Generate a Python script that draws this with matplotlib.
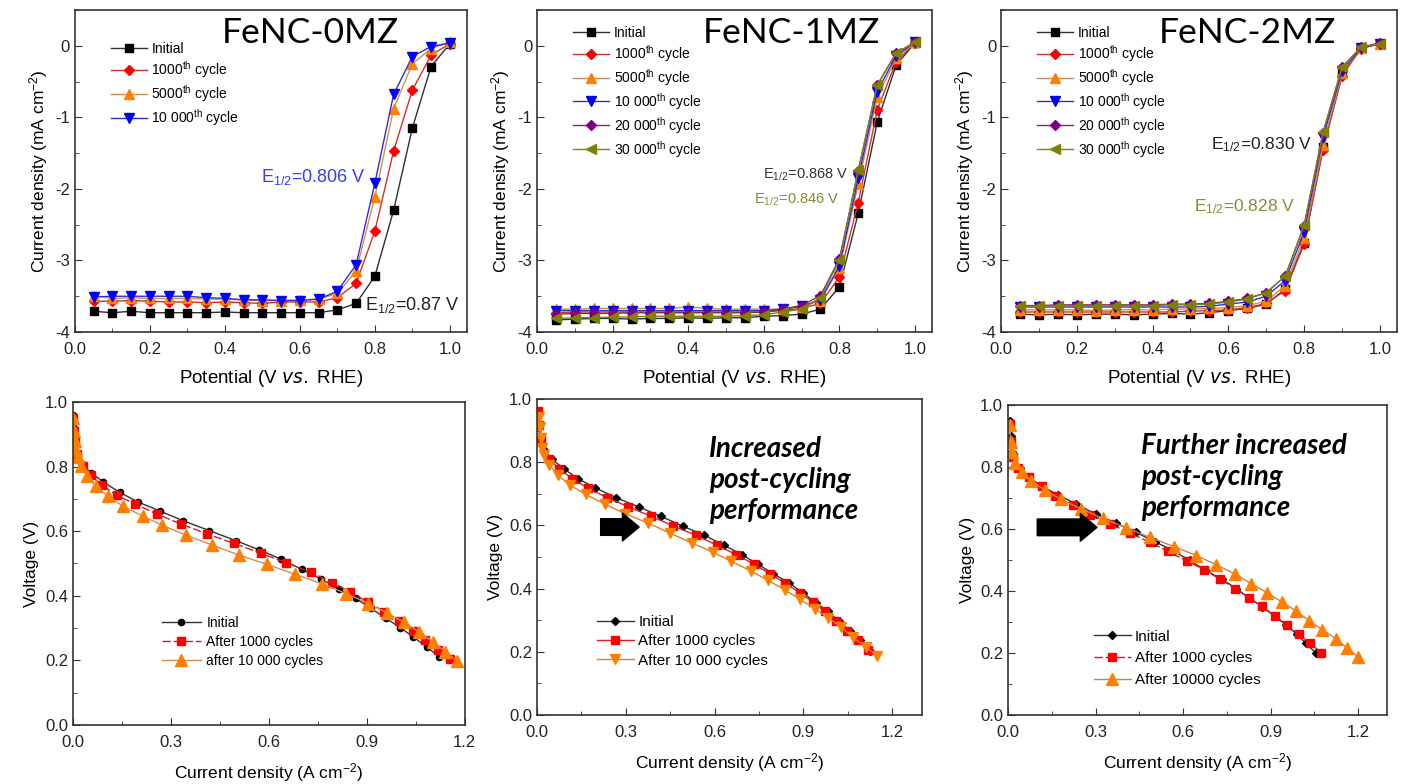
import matplotlib
matplotlib.use('Agg')
import matplotlib.pyplot as plt
from matplotlib.ticker import MultipleLocator
import numpy as np

plt.rcParams['font.family'] = ['Liberation Sans', 'DejaVu Sans']
plt.rcParams['mathtext.default'] = 'regular'

# ---------------- RDE data (potential vs current density) ----------------
potential = [0.05, 0.10, 0.15, 0.20, 0.25, 0.30, 0.35, 0.40, 0.45, 0.50,
             0.55, 0.60, 0.65, 0.70, 0.75, 0.80, 0.85, 0.90, 0.95, 1.00]

# FeNC-0MZ
rde0_initial = [-3.71, -3.73, -3.71, -3.73, -3.73, -3.73, -3.73, -3.72, -3.73, -3.73,
                -3.73, -3.73, -3.73, -3.69, -3.60, -3.22, -2.30, -1.15, -0.29, 0.03]
rde0_1000 = [-3.57, -3.57, -3.56, -3.57, -3.58, -3.58, -3.59, -3.58, -3.59, -3.60,
             -3.58, -3.58, -3.58, -3.52, -3.32, -2.59, -1.47, -0.62, -0.13, 0.03]
rde0_5000 = [-3.49, -3.53, -3.52, -3.53, -3.53, -3.53, -3.54, -3.54, -3.55, -3.56,
             -3.56, -3.55, -3.54, -3.46, -3.15, -2.11, -0.88, -0.25, -0.04, 0.05]
rde0_10000 = [-3.51, -3.50, -3.50, -3.50, -3.50, -3.50, -3.52, -3.53, -3.55, -3.55,
              -3.56, -3.56, -3.54, -3.43, -3.06, -1.92, -0.68, -0.15, -0.01, 0.04]

# FeNC-1MZ
rde1_initial = [-3.83, -3.82, -3.81, -3.81, -3.82, -3.81, -3.81, -3.80, -3.81, -3.80,
                -3.80, -3.78, -3.77, -3.75, -3.68, -3.37, -2.34, -1.07, -0.27, 0.04]
rde1_1000 = [-3.73, -3.72, -3.72, -3.72, -3.72, -3.72, -3.72, -3.72, -3.72, -3.72,
             -3.72, -3.72, -3.70, -3.67, -3.60, -3.23, -2.19, -0.90, -0.22, 0.04]
rde1_5000 = [-3.68, -3.68, -3.67, -3.67, -3.67, -3.67, -3.67, -3.65, -3.67, -3.68,
             -3.68, -3.68, -3.68, -3.65, -3.56, -3.10, -1.93, -0.72, -0.17, 0.05]
rde1_10000 = [-3.70, -3.70, -3.70, -3.70, -3.70, -3.70, -3.70, -3.70, -3.70, -3.70,
              -3.70, -3.70, -3.68, -3.64, -3.55, -3.08, -1.85, -0.64, -0.14, 0.05]
rde1_20000 = [-3.75, -3.74, -3.74, -3.74, -3.73, -3.73, -3.73, -3.73, -3.73, -3.73,
              -3.73, -3.72, -3.68, -3.63, -3.49, -2.98, -1.75, -0.55, -0.10, 0.05]
rde1_30000 = [-3.81, -3.80, -3.80, -3.79, -3.79, -3.78, -3.78, -3.78, -3.78, -3.78,
              -3.77, -3.76, -3.72, -3.68, -3.52, -3.00, -1.73, -0.55, -0.10, 0.05]

# FeNC-2MZ
rde2_initial = [-3.75, -3.76, -3.75, -3.76, -3.75, -3.75, -3.76, -3.75, -3.74, -3.75,
                -3.73, -3.70, -3.67, -3.61, -3.40, -2.75, -1.42, -0.40, -0.03, 0.03]
rde2_1000 = [-3.72, -3.72, -3.72, -3.72, -3.72, -3.72, -3.72, -3.72, -3.72, -3.71,
             -3.70, -3.69, -3.66, -3.60, -3.42, -2.77, -1.45, -0.42, -0.04, 0.03]
rde2_5000 = [-3.69, -3.69, -3.69, -3.69, -3.70, -3.69, -3.69, -3.69, -3.68, -3.68,
             -3.67, -3.66, -3.63, -3.57, -3.35, -2.68, -1.38, -0.38, -0.03, 0.03]
rde2_10000 = [-3.65, -3.65, -3.65, -3.65, -3.65, -3.65, -3.65, -3.65, -3.65, -3.65,
              -3.64, -3.61, -3.58, -3.50, -3.28, -2.60, -1.28, -0.35, -0.03, 0.03]
rde2_20000 = [-3.63, -3.63, -3.62, -3.62, -3.62, -3.62, -3.62, -3.62, -3.61, -3.61,
              -3.60, -3.57, -3.53, -3.45, -3.22, -2.52, -1.22, -0.30, -0.02, 0.04]
rde2_30000 = [-3.64, -3.64, -3.63, -3.63, -3.63, -3.63, -3.63, -3.63, -3.62, -3.62,
              -3.61, -3.58, -3.54, -3.45, -3.22, -2.50, -1.20, -0.30, -0.02, 0.03]

# ---------------- fuel cell polarization data ----------------
# FeNC-0MZ
pol0_init_j = [0.0, 0.002, 0.005, 0.01, 0.027, 0.055, 0.092, 0.143, 0.200, 0.265, 0.338,
               0.417, 0.498, 0.571, 0.638, 0.700, 0.759, 0.814, 0.866, 0.913, 0.959,
               1.003, 1.043, 1.083, 1.122]
pol0_init_v = [0.96, 0.92, 0.88, 0.84, 0.807, 0.781, 0.753, 0.720, 0.690, 0.663, 0.632,
               0.602, 0.571, 0.542, 0.513, 0.482, 0.452, 0.421, 0.392, 0.361, 0.330,
               0.301, 0.272, 0.242, 0.211]
pol0_1000_j = [0.0, 0.003, 0.006, 0.012, 0.031, 0.055, 0.089, 0.134, 0.190, 0.257, 0.331,
               0.409, 0.493, 0.577, 0.654, 0.728, 0.793, 0.849, 0.903, 0.954, 1.000,
               1.041, 1.079, 1.117, 1.155]
pol0_1000_v = [0.95, 0.91, 0.88, 0.84, 0.802, 0.773, 0.742, 0.711, 0.684, 0.653, 0.622,
               0.592, 0.562, 0.531, 0.502, 0.473, 0.441, 0.412, 0.381, 0.351, 0.322,
               0.292, 0.262, 0.232, 0.203]
pol0_10000_j = [0.0, 0.003, 0.006, 0.010, 0.015, 0.024, 0.043, 0.070, 0.106, 0.153, 0.213,
                0.272, 0.345, 0.427, 0.508, 0.595, 0.679, 0.763, 0.837, 0.905, 0.962,
                1.013, 1.061, 1.102, 1.140, 1.176]
pol0_10000_v = [0.95, 0.91, 0.88, 0.85, 0.830, 0.801, 0.771, 0.739, 0.709, 0.677, 0.647,
                0.619, 0.588, 0.557, 0.526, 0.497, 0.467, 0.437, 0.407, 0.376, 0.347,
                0.318, 0.288, 0.258, 0.227, 0.198]

# FeNC-1MZ
pol1_init_j = [0.004, 0.006, 0.010, 0.025, 0.051, 0.090, 0.138, 0.197, 0.267, 0.343, 0.418,
               0.492, 0.565, 0.633, 0.693, 0.747, 0.798, 0.852, 0.899, 0.944, 0.983,
               1.019, 1.056, 1.092, 1.124]
pol1_init_v = [0.958, 0.918, 0.876, 0.838, 0.809, 0.780, 0.748, 0.719, 0.688, 0.659, 0.629,
               0.598, 0.569, 0.537, 0.507, 0.477, 0.447, 0.418, 0.386, 0.355, 0.328,
               0.297, 0.267, 0.236, 0.204]
pol1_1000_j = [0.004, 0.008, 0.013, 0.042, 0.073, 0.118, 0.171, 0.236, 0.309, 0.385, 0.461,
               0.537, 0.609, 0.674, 0.734, 0.787, 0.837, 0.888, 0.933, 0.974, 1.011,
               1.048, 1.084, 1.118]
pol1_1000_v = [0.962, 0.918, 0.875, 0.810, 0.780, 0.748, 0.719, 0.688, 0.659, 0.629, 0.598,
               0.569, 0.537, 0.507, 0.477, 0.447, 0.418, 0.387, 0.357, 0.328, 0.297,
               0.267, 0.238, 0.206]
pol1_10000_j = [0.008, 0.011, 0.013, 0.017, 0.025, 0.042, 0.071, 0.112, 0.165, 0.230, 0.298,
                0.374, 0.449, 0.522, 0.593, 0.657, 0.722, 0.781, 0.837, 0.890, 0.938,
                0.983, 1.028, 1.067, 1.112, 1.148]
pol1_10000_v = [0.944, 0.912, 0.877, 0.845, 0.822, 0.791, 0.759, 0.727, 0.698, 0.667, 0.637,
                0.608, 0.576, 0.545, 0.516, 0.486, 0.456, 0.426, 0.396, 0.366, 0.336,
                0.308, 0.278, 0.246, 0.215, 0.188]

# FeNC-2MZ
pol2_init_j = [0.006, 0.009, 0.014, 0.040, 0.072, 0.114, 0.171, 0.234, 0.300, 0.369, 0.438,
               0.503, 0.568, 0.623, 0.674, 0.734, 0.783, 0.826, 0.872, 0.914, 0.954,
               0.991, 1.021, 1.055]
pol2_init_v = [0.950, 0.900, 0.848, 0.799, 0.767, 0.740, 0.711, 0.681, 0.649, 0.620, 0.590,
               0.560, 0.529, 0.499, 0.469, 0.438, 0.408, 0.379, 0.349, 0.320, 0.290,
               0.261, 0.231, 0.201]
pol2_1000_j = [0.006, 0.009, 0.017, 0.034, 0.072, 0.117, 0.162, 0.221, 0.282, 0.349, 0.419,
               0.486, 0.549, 0.614, 0.672, 0.728, 0.779, 0.826, 0.872, 0.914, 0.957,
               0.998, 1.037, 1.074]
pol2_1000_v = [0.940, 0.886, 0.832, 0.799, 0.767, 0.739, 0.706, 0.678, 0.647, 0.618, 0.587,
               0.558, 0.528, 0.497, 0.469, 0.438, 0.408, 0.379, 0.351, 0.320, 0.290,
               0.260, 0.231, 0.201]
pol2_10000_j = [0.006, 0.009, 0.014, 0.023, 0.048, 0.080, 0.126, 0.181, 0.251, 0.326, 0.406,
                0.486, 0.568, 0.646, 0.714, 0.779, 0.834, 0.888, 0.939, 0.989, 1.032,
                1.077, 1.123, 1.162, 1.200]
pol2_10000_v = [0.935, 0.880, 0.848, 0.815, 0.785, 0.756, 0.726, 0.697, 0.665, 0.635, 0.604,
                0.574, 0.544, 0.515, 0.485, 0.455, 0.424, 0.395, 0.365, 0.335, 0.305,
                0.276, 0.247, 0.217, 0.188]

rde_labels6 = ['Initial', '1000$^{th}$ cycle', '5000$^{th}$ cycle', '10 000$^{th}$ cycle',
               '20 000$^{th}$ cycle', '30 000$^{th}$ cycle']

# marker colour, line colour, marker
rde_styles = [('black', '#303030', 's'), ('#ff0000', '#d03030', 'D'),
              ('#ff8000', '#d09050', '^'), ('#0000ff', '#3030d0', 'v'),
              ('#800080', '#803040', 'D'), ('#808000', '#808020', '<')]


def style_axes(ax):
    for sp in ax.spines.values():
        sp.set_color('#333333')
        sp.set_linewidth(1.2)
    ax.tick_params(which='both', direction='in', top=False, right=False,
                   labelsize=12, colors='#333333', labelcolor='#222222')
    ax.tick_params(which='major', length=5)
    ax.tick_params(which='minor', length=3)
    ax.tick_params(axis='x', pad=7)


def rde_panel(ax, curves, title, title_x, leg_y):
    for i, y in enumerate(curves):
        mc, lc, m = rde_styles[i]
        ms = 5 if m == 'D' else (6 if m == 's' else 7)
        ax.plot(potential, y, color=lc, lw=1.0, marker=m, ms=ms, mfc=mc, mec=mc,
                label=rde_labels6[i])
    ax.set_xlim(0, 1.045)
    ax.set_ylim(-4, 0.5)
    ax.xaxis.set_major_locator(MultipleLocator(0.2))
    ax.xaxis.set_minor_locator(MultipleLocator(0.1))
    ax.yaxis.set_major_locator(MultipleLocator(1))
    ax.yaxis.set_minor_locator(MultipleLocator(0.5))
    ax.xaxis.set_major_formatter(matplotlib.ticker.FormatStrFormatter('%.1f'))
    ax.yaxis.set_major_formatter(matplotlib.ticker.FormatStrFormatter('%d'))
    ax.set_xlabel('Potential (V $\\it{vs.}$ RHE)', fontsize=13.5, labelpad=8)
    ax.set_ylabel('Current density (mA cm$^{-2}$)', fontsize=12.5, labelpad=4)
    ax.text(title_x, 0.93, title, transform=ax.transAxes, ha='center', va='center',
            fontsize=25.5, family=['Lato', 'DejaVu Sans'])
    style_axes(ax)
    ax.legend(loc='upper left', bbox_to_anchor=(0.06, leg_y), frameon=False, fontsize=10,
              handlelength=2.6, handletextpad=0.3, labelspacing=0.22, borderaxespad=0.5)


def pol_panel(ax, series, labels, styles, xmax):
    for (j, v), lab, (mc, lc, m, ls, ms) in zip(series, labels, styles):
        ax.plot(j, v, color=lc, lw=1.0, ls=ls, marker=m, ms=ms, mfc=mc, mec=mc, label=lab)
    ax.set_xlim(0, xmax)
    ax.set_ylim(0, 1.0)
    ax.xaxis.set_major_locator(MultipleLocator(0.3))
    ax.xaxis.set_minor_locator(MultipleLocator(0.15))
    ax.yaxis.set_major_locator(MultipleLocator(0.2))
    ax.yaxis.set_minor_locator(MultipleLocator(0.1))
    ax.xaxis.set_major_formatter(matplotlib.ticker.FormatStrFormatter('%.1f'))
    ax.yaxis.set_major_formatter(matplotlib.ticker.FormatStrFormatter('%.1f'))
    ax.set_xlabel('Current density (A cm$^{-2}$)', fontsize=12.5, labelpad=8)
    ax.set_ylabel('Voltage (V)', fontsize=12.5, labelpad=4)
    style_axes(ax)


fig = plt.figure(figsize=(14.04, 7.84), dpi=100)

ax1 = fig.add_axes([0.0534, 0.5765, 0.279, 0.4107])
ax2 = fig.add_axes([0.3825, 0.5765, 0.2813, 0.4107])
ax3 = fig.add_axes([0.713, 0.5765, 0.282, 0.4107])
ax4 = fig.add_axes([0.052, 0.0753, 0.279, 0.412])
ax5 = fig.add_axes([0.3825, 0.088, 0.274, 0.403])
ax6 = fig.add_axes([0.718, 0.088, 0.27, 0.395])

# top row
rde_panel(ax1, [rde0_initial, rde0_1000, rde0_5000, rde0_10000], 'FeNC-0MZ', 0.60, 0.94)
ax1.text(0.775, -1.83, 'E$_{1/2}$=0.806 V', color='#3c3cf0', fontsize=13, ha='right', va='center')
ax1.text(1.025, -3.62, 'E$_{1/2}$=0.87 V', color='#222222', fontsize=13, ha='right', va='center')

rde_panel(ax2, [rde1_initial, rde1_1000, rde1_5000, rde1_10000, rde1_20000, rde1_30000],
          'FeNC-1MZ', 0.643, 0.99)
ax2.text(0.825, -1.80, 'E$_{1/2}$=0.868 V', color='#333333', fontsize=10.5, ha='right', va='center')
ax2.text(0.80, -2.15, 'E$_{1/2}$=0.846 V', color='#8a8a3a', fontsize=10.5, ha='right', va='center')

rde_panel(ax3, [rde2_initial, rde2_1000, rde2_5000, rde2_10000, rde2_20000, rde2_30000],
          'FeNC-2MZ', 0.621, 0.99)
ax3.text(0.82, -1.38, 'E$_{1/2}$=0.830 V', color='#222222', fontsize=12.5, ha='right', va='center')
ax3.text(0.775, -2.25, 'E$_{1/2}$=0.828 V', color='#8a8a3a', fontsize=12.5, ha='right', va='center')

# bottom row
pol_panel(ax4, [(pol0_init_j, pol0_init_v), (pol0_1000_j, pol0_1000_v), (pol0_10000_j, pol0_10000_v)],
          ['Initial', 'After 1000 cycles', 'after 10 000 cycles'],
          [('black', '#333333', 'o', '-', 4.5), ('#ff0000', '#d02020', 's', (0, (6, 2)), 5.5),
           ('#ff8000', '#d09050', '^', '-', 8)], 1.2)
ax4.legend(loc='upper left', bbox_to_anchor=(0.195, 0.375), frameon=False, fontsize=10,
           handlelength=2.8, handletextpad=0.4, labelspacing=0.35)

pol_panel(ax5, [(pol1_init_j, pol1_init_v), (pol1_1000_j, pol1_1000_v), (pol1_10000_j, pol1_10000_v)],
          ['Initial', 'After 1000 cycles', 'After 10 000 cycles'],
          [('black', '#333333', 'D', '-', 4), ('#ff0000', '#e02020', 's', '-', 6),
           ('#ff8000', '#e08020', 'v', '-', 7)], 1.3)
ax5.legend(loc='upper left', bbox_to_anchor=(0.12, 0.36), frameon=False, fontsize=11,
           handlelength=2.4, handletextpad=0.3, labelspacing=0.35)
ax5.text(0.447, 0.744, 'Increased\npost-cycling\nperformance', transform=ax5.transAxes,
         ha='left', va='center', fontsize=20, fontweight='bold', fontstyle='italic',
         family=['Lato', 'DejaVu Sans'], linespacing=1.25)
ax5.annotate('', xy=(0.345, 0.595), xytext=(0.215, 0.595),
             arrowprops=dict(arrowstyle='simple,head_length=0.6,head_width=1.0,tail_width=0.6',
                             color='black', mutation_scale=20, shrinkA=0, shrinkB=0))

pol_panel(ax6, [(pol2_init_j, pol2_init_v), (pol2_1000_j, pol2_1000_v), (pol2_10000_j, pol2_10000_v)],
          ['Initial', 'After 1000 cycles', 'After 10000 cycles'],
          [('black', '#333333', 'D', '-', 4), ('#ff0000', '#d02020', 's', (0, (6, 2)), 6),
           ('#ff8000', '#c08850', '^', '-', 8)], 1.3)
ax6.legend(loc='upper left', bbox_to_anchor=(0.19, 0.32), frameon=False, fontsize=11,
           handlelength=2.4, handletextpad=0.3, labelspacing=0.5)
ax6.text(0.351, 0.768, 'Further increased\npost-cycling\nperformance', transform=ax6.transAxes,
         ha='left', va='center', fontsize=20, fontweight='bold', fontstyle='italic',
         family=['Lato', 'DejaVu Sans'], linespacing=1.25)
ax6.annotate('', xy=(0.305, 0.606), xytext=(0.10, 0.606),
             arrowprops=dict(arrowstyle='simple,head_length=0.6,head_width=1.0,tail_width=0.6',
                             color='black', mutation_scale=20, shrinkA=0, shrinkB=0))

fig.savefig('out.png', dpi=100)
